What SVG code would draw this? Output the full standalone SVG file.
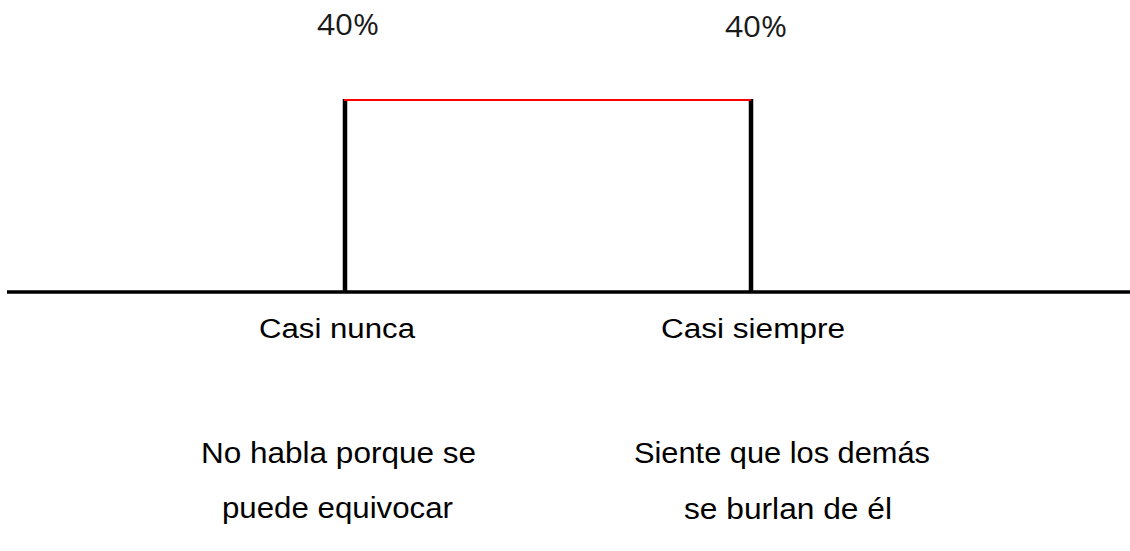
<svg xmlns="http://www.w3.org/2000/svg" width="1130" height="551" viewBox="0 0 1130 551">
<style>
.pct{font-family:"Open Sans","DejaVu Sans",sans-serif;font-size:29px;fill:#1a1a1a}
.lbl{font-family:"Liberation Sans",Arial,sans-serif;font-size:27px;fill:#000}
.desc{font-family:"Liberation Sans",Arial,sans-serif;font-size:30px;fill:#000}
.blk{stroke:#000;fill:none}
</style>
<rect width="1130" height="551" fill="#fff"/>
<g id="connectors">
<line class="blk" x1="7" y1="292" x2="1130" y2="292" stroke-width="3.5"/>
<line class="blk" x1="345" y1="99" x2="345" y2="292" stroke-width="4.5"/>
<line class="blk" x1="751" y1="99" x2="751" y2="292" stroke-width="4.5"/>
<line x1="344" y1="100" x2="751" y2="100" stroke="#ff0000" stroke-width="2"/>
</g>
<g id="pct-left"><text class="pct" x="317" y="35" textLength="62" lengthAdjust="spacingAndGlyphs">40%</text></g>
<g id="pct-right"><text class="pct" x="725" y="37" textLength="62" lengthAdjust="spacingAndGlyphs">40%</text></g>
<g id="label-left"><text class="lbl" x="259" y="338" textLength="156" lengthAdjust="spacingAndGlyphs">Casi nunca</text></g>
<g id="label-right"><text class="lbl" x="661" y="338" textLength="184" lengthAdjust="spacingAndGlyphs">Casi siempre</text></g>
<g id="desc-left">
<text class="desc" x="201" y="463" textLength="275" lengthAdjust="spacingAndGlyphs">No habla porque se</text>
<text class="desc" x="222" y="518" textLength="231" lengthAdjust="spacingAndGlyphs">puede equivocar</text>
</g>
<g id="desc-right">
<text class="desc" x="634" y="463" textLength="296" lengthAdjust="spacingAndGlyphs">Siente que los demás</text>
<text class="desc" x="684" y="519" textLength="208" lengthAdjust="spacingAndGlyphs">se burlan de él</text>
</g>
</svg>
